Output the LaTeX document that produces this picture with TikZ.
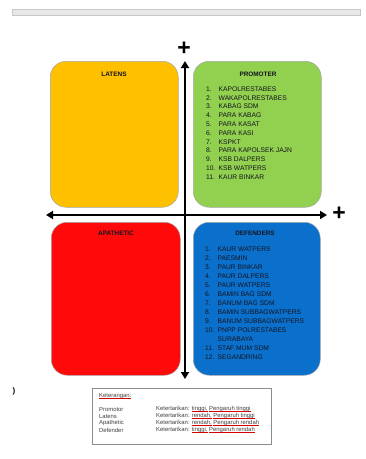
\documentclass[tikz,border=0pt]{standalone}
\usepackage{fontspec}
\setmainfont{Liberation Sans}
\usetikzlibrary{arrows.meta}

\definecolor{latyellow}{HTML}{FFC000}
\definecolor{promgreen}{HTML}{92D050}
\definecolor{apred}{HTML}{FF0A0A}
\definecolor{defblue}{HTML}{0B70CC}
\definecolor{listink}{HTML}{141420}

% numbered list entry: number column, then the name
\newcommand\itm[2]{\makebox[12.5pt][l]{#1}#2}
% spell-check style red underline under dark text
\newsavebox\rlbox
\newcommand\redline[1]{\sbox\rlbox{#1}\rlap{\textcolor{red!85!black}{\rule[-0.45ex]{\wd\rlbox}{0.35pt}}}\usebox\rlbox}

\tikzset{
  quad/.style={draw=black!35, line width=0.5pt, rounded corners=16pt,
               anchor=north west, inner sep=0pt},
  qtitle/.style={font=\fontsize{6.4}{7}\selectfont\bfseries, text=listink, inner sep=0pt},
  qlist/.style={align=left, anchor=north west, inner sep=0pt, text=listink},
  axis/.style={line width=2.8pt, black, {Triangle[length=7pt,width=8pt]}-{Triangle[length=7pt,width=8pt]}},
  plussign/.style={font=\fontsize{23}{23}\selectfont\bfseries, inner sep=0pt},
  legtext/.style={font=\fontsize{5.9}{7}\selectfont, text=black!75, anchor=west, inner sep=0pt},
}

\begin{document}
\begin{tikzpicture}[x=1pt,y=-1pt]
  \fill[white] (0,0) rectangle (366,459);
  \useasboundingbox (0,0) rectangle (366,459);

  % toolbar strip across the top
  \draw[black!22, fill=black!9, line width=0.4pt] (12,9) rectangle (360,15);

  % the four quadrants
  \node[quad, fill=latyellow, minimum width=128pt, minimum height=146pt] (lat) at (50,61) {};
  \node[quad, fill=promgreen, minimum width=128pt, minimum height=146pt] (pro) at (193,61) {};
  \node[quad, fill=apred, minimum width=129pt, minimum height=153pt] (apa) at (51,222) {};
  \node[quad, fill=defblue, minimum width=127pt, minimum height=153pt] (def) at (193,222) {};

  % quadrant titles
  \node[qtitle] (latT) at (114,74) {LATENS};
  \node[qtitle] (proT) at (258,74) {PROMOTER};
  \node[qtitle] (apaT) at (116,233) {APATHETIC};
  \node[qtitle] (defT) at (255,233) {DEFENDERS};

  % promoter members
  \node[qlist, font=\fontsize{6.7}{8.8}\selectfont] (proL) at (206,86.5) {%
    \itm{1.}{KAPOLRESTABES}\\
    \itm{2.}{WAKAPOLRESTABES}\\
    \itm{3.}{KABAG SDM}\\
    \itm{4.}{PARA KABAG}\\
    \itm{5.}{PARA KASAT}\\
    \itm{6.}{PARA KASI}\\
    \itm{7.}{KSPKT}\\
    \itm{8.}{PARA KAPOLSEK JAJN}\\
    \itm{9.}{KSB DALPERS}\\
    \itm{10.}{KSB WATPERS}\\
    \itm{11.}{KAUR BINKAR}};

  % defender members
  \node[qlist, font=\fontsize{6.7}{9.0}\selectfont] (defL) at (205,246.7) {%
    \itm{1.}{KAUR WATPERS}\\
    \itm{2.}{PAESMIN}\\
    \itm{3.}{PAUR BINKAR}\\
    \itm{4.}{PAUR DALPERS}\\
    \itm{5.}{PAUR WATPERS}\\
    \itm{6.}{BAMIN BAG SDM}\\
    \itm{7.}{BANUM BAG SDM}\\
    \itm{8.}{BAMIN SUBBAGWATPERS}\\
    \itm{9.}{BANUM SUBBAGWATPERS}\\
    \itm{10.}{PNPP POLRESTABES}\\
    \itm{}{SURABAYA}\\
    \itm{11.}{STAF MUM SDM}\\
    \itm{12.}{SEGANDRING}};

  % axes
  \coordinate (vtop) at (185,61);
  \coordinate (vbot) at (185,379);
  \coordinate (hleft) at (46,215);
  \coordinate (hright) at (327,215);
  \draw[axis] (vbot) -- (vtop);
  \draw[axis] (hleft) -- (hright);
  \node[plussign] (vplus) at (184,49) {+};
  \node[plussign] (hplus) at (339,214) {+};

  % stray mark at the left margin
  \node[font=\fontsize{8}{8}\selectfont\bfseries, inner sep=0pt] (mark) at (14,391) {)};

  % legend
  \node[draw=black!45, line width=0.5pt, anchor=north west, minimum width=179pt,
        minimum height=56pt, inner sep=0pt] (leg) at (92,388) {};
  \node[legtext] (legH) at (99,396) {\redline{Keterangan:}};
  \node[legtext] (l1) at (99,409) {Promotor};
  \node[legtext] (l2) at (99,416) {Latens};
  \node[legtext] (l3) at (99,423) {Apathetic};
  \node[legtext] (l4) at (99,430) {Defender};
  \node[legtext] (v1) at (156,409) {Ketertarikan: \redline{tinggi,} \redline{Pengaruh tinggi}};
  \node[legtext] (v2) at (156,416) {Ketertarikan: \redline{rendah,} \redline{Pengaruh tinggi}};
  \node[legtext] (v3) at (156,423) {Ketertarikan: \redline{rendah,} \redline{Pengaruh rendah}};
  \node[legtext] (v4) at (156,430) {Ketertarikan: \redline{tinggi,} \redline{Pengaruh rendah}};
\end{tikzpicture}
\end{document}
